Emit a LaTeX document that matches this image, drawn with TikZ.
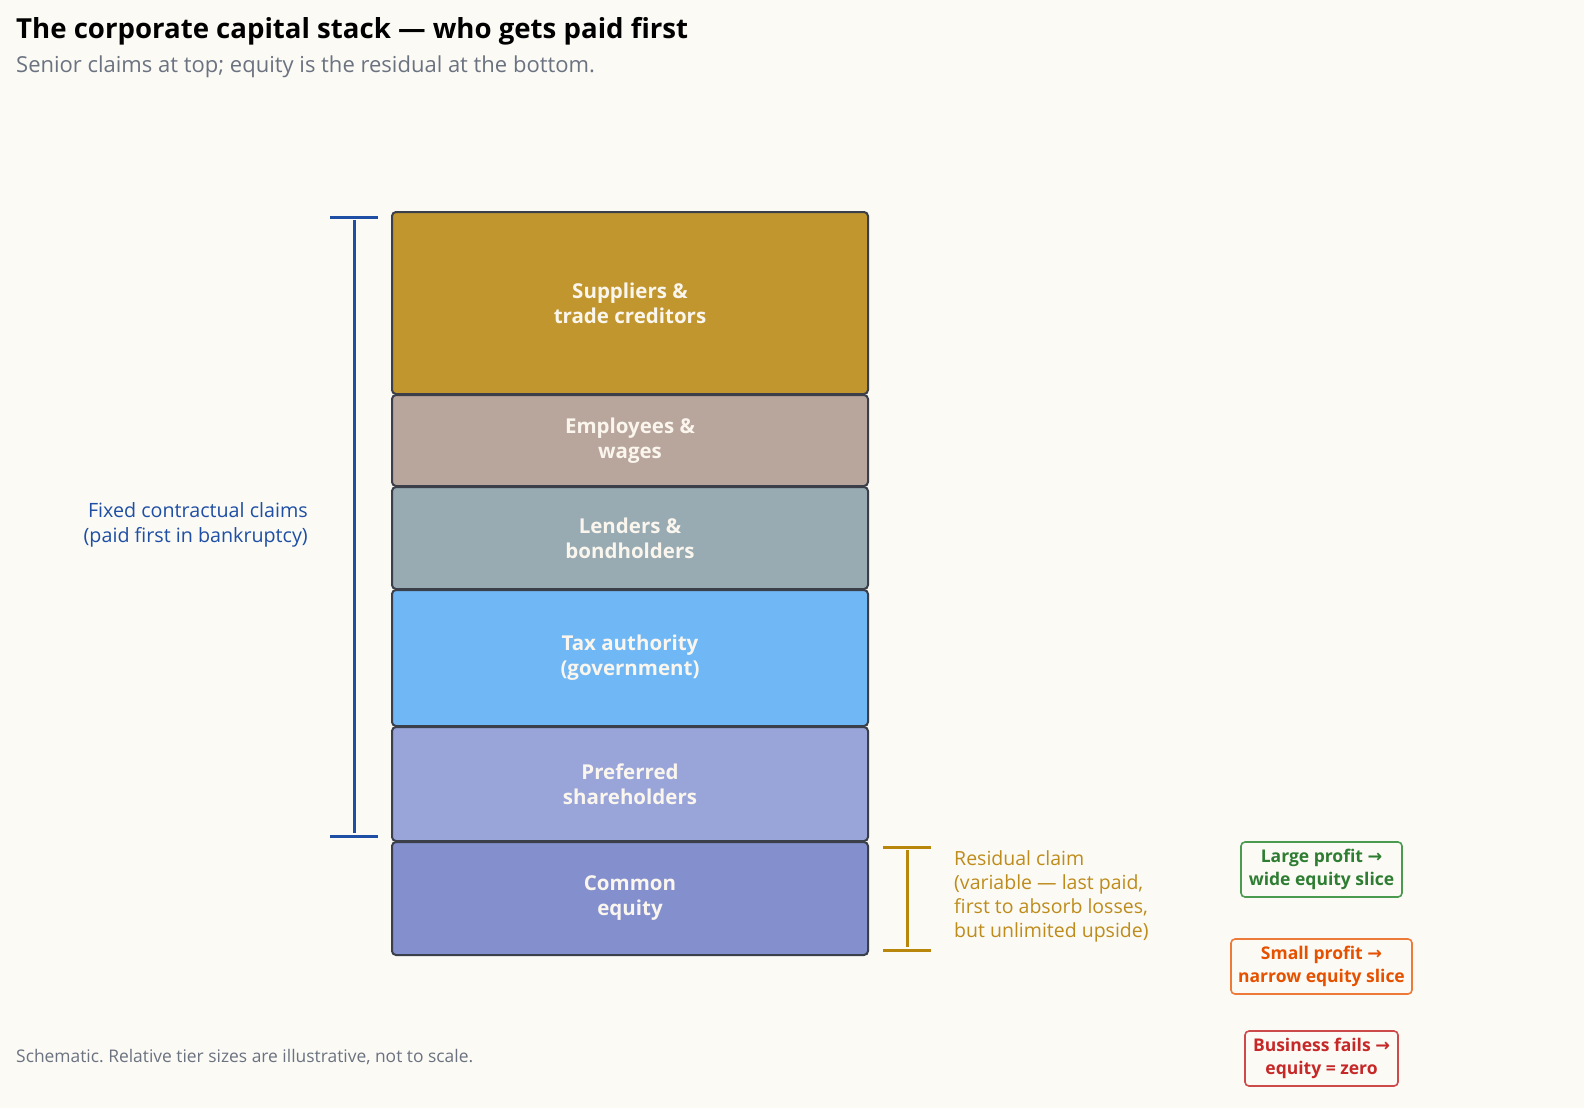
\documentclass[tikz,border=0pt]{standalone}
\usepackage{fontspec}
\setmainfont{Open Sans}
\newfontfamily\symfont{DejaVu Sans}
\newcommand{\rarr}{{\symfont →}}
\frenchspacing
\definecolor{bg}{HTML}{FBFAF5}
\definecolor{edge}{HTML}{3A3F4A}
\definecolor{cSup}{HTML}{C1962E}
\definecolor{cEmp}{HTML}{B8A59B}
\definecolor{cLen}{HTML}{98AAB2}
\definecolor{cTax}{HTML}{6FB8F5}
\definecolor{cPre}{HTML}{99A4D8}
\definecolor{cCom}{HTML}{8490CE}
\definecolor{tierText}{HTML}{FAF6EE}
\definecolor{fixedBlue}{HTML}{1F4FA5}
\definecolor{gold}{HTML}{B8860B}
\definecolor{goldText}{HTML}{BE8C1C}
\definecolor{subGray}{HTML}{6B7280}
\definecolor{cGreen}{HTML}{2E7D32}
\definecolor{cGreenB}{HTML}{4A9A50}
\definecolor{cOrange}{HTML}{E65100}
\definecolor{cOrangeB}{HTML}{EE7A3A}
\definecolor{cRed}{HTML}{C62828}
\definecolor{cRedB}{HTML}{CC4A4A}
\begin{document}
\begin{tikzpicture}[x=1pt,y=-1pt,
  tier/.style={draw=edge, line width=2pt, rounded corners=4pt},
  tierlabel/.style={text=tierText, font=\bfseries\fontsize{20.5}{25}\selectfont, align=center, inner sep=0pt},
  outcome/.style={draw=#1, line width=1.6pt, rounded corners=4pt, fill=bg},
  outlabel/.style={text=#1, font=\bfseries\fontsize{17.5}{23}\selectfont, align=center, inner sep=0pt},
  bracket/.style={line width=3pt},
]
\useasboundingbox[fill=bg] (0,0) rectangle (1584,1108);

% title
\node[anchor=base west, font=\bfseries\fontsize{27.6}{32}\selectfont, inner sep=0pt] (title) at (16,38) {The corporate capital stack — who gets paid first};
\node[anchor=base west, font=\fontsize{22}{26}\selectfont, text=subGray, inner sep=0pt] (subtitle) at (16,72) {Senior claims at top; equity is the residual at the bottom.};

% tiers
\path[tier, fill=cSup] (392,212) rectangle (868,394) node[midway, tierlabel] (sup) {Suppliers \&\\trade creditors};
\path[tier, fill=cEmp] (392,395) rectangle (868,486) node[midway, tierlabel] (emp) {Employees \&\\wages};
\path[tier, fill=cLen] (392,487) rectangle (868,589) node[midway, tierlabel] (len) {Lenders \&\\bondholders};
\path[tier, fill=cTax] (392,590) rectangle (868,726) node[midway, tierlabel] (tax) {Tax authority\\(government)};
\path[tier, fill=cPre] (392,727) rectangle (868,841) node[midway, tierlabel] (pre) {Preferred\\shareholders};
\path[tier, fill=cCom] (392,842) rectangle (868,955) node[midway, tierlabel] (com) {Common\\equity};

% fixed bracket
\coordinate (ft1) at (330,217); \coordinate (ft2) at (378,217);
\coordinate (fb1) at (330,836); \coordinate (fb2) at (378,836);
\coordinate (fv1) at (354,220); \coordinate (fv2) at (354,833);
\draw[bracket, fixedBlue] (ft1) -- (ft2) (fb1) -- (fb2) (fv1) -- (fv2);
\node[anchor=east, align=right, text=fixedBlue, font=\fontsize{19.7}{25}\selectfont, inner sep=0pt] (fixed) at (308,525) {Fixed contractual claims\\(paid first in bankruptcy)};

% residual bracket
\coordinate (rt1) at (883,847); \coordinate (rt2) at (931,847);
\coordinate (rb1) at (883,950); \coordinate (rb2) at (931,950);
\coordinate (rv1) at (907,850); \coordinate (rv2) at (907,947);
\draw[bracket, gold] (rt1) -- (rt2) (rb1) -- (rb2) (rv1) -- (rv2);
\node[anchor=north west, align=left, text=goldText, font=\fontsize{19.5}{24}\selectfont, inner sep=0pt] (resid) at (954,850) {Residual claim\\(variable — last paid,\\first to absorb losses,\\but unlimited upside)};

% outcomes
\path[outcome=cGreenB] (1241,842) rectangle (1402,897) node[midway, outlabel=cGreen] (large) {Large profit \rarr\\wide equity slice};
\path[outcome=cOrangeB] (1231,939) rectangle (1412,994) node[midway, outlabel=cOrange] (small) {Small profit \rarr\\narrow equity slice};
\path[outcome=cRedB] (1245,1031) rectangle (1398,1086) node[midway, outlabel=cRed] (fails) {Business fails \rarr\\equity = zero};

% footer
\node[anchor=base west, text=subGray, font=\fontsize{17.4}{21}\selectfont, inner sep=0pt] (foot) at (16,1062) {Schematic. Relative tier sizes are illustrative, not to scale.};
\end{tikzpicture}
\end{document}
